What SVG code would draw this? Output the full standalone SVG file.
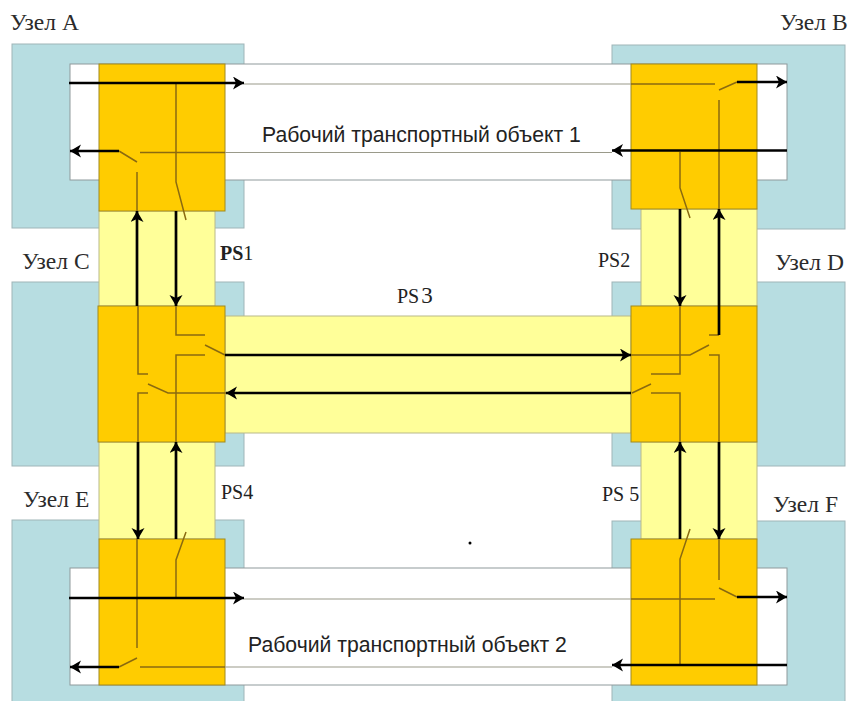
<svg xmlns="http://www.w3.org/2000/svg" width="855" height="701" viewBox="0 0 855 701">
<style>
.bg{fill:#b7dde1;stroke:#9fb5b8;stroke-width:1}
.band{fill:#fff;stroke:#8f9a9c;stroke-width:1}
.ps{fill:#ffff99;stroke:#b9b98a;stroke-width:1}
.or{fill:#ffcc00;stroke:#a08a20;stroke-width:1}
.t{font-family:"Liberation Serif",serif;font-size:23.500px;fill:#2b2b2b}
.s{font-family:"Liberation Sans",sans-serif;font-size:21.200px;fill:#222}
.p{font-family:"Liberation Serif",serif;font-size:20px;fill:#222}
.thin{fill:none;stroke:#8a6a10;stroke-width:1.500}
.grey{fill:none;stroke:#9a9a8a;stroke-width:1.200}
.arr{fill:none;stroke:#000;stroke-width:2.700;marker-end:url(#ah)}
.thick{fill:none;stroke:#000;stroke-width:2.700}
</style>
<defs>
<marker id="ah" markerUnits="userSpaceOnUse" markerWidth="12" markerHeight="14" refX="11" refY="6.500" orient="auto">
<path d="M0,0 L11,6.500 L0,13 L3,6.500 Z" fill="#000"/>
</marker>
</defs>
<g id="node-a-bg"><rect class="bg" x="12" y="44" width="232" height="184"/></g>
<g id="node-b-bg"><rect class="bg" x="612" y="45" width="233" height="184"/></g>
<g id="node-c-bg"><rect class="bg" x="12" y="282" width="232" height="184"/></g>
<g id="node-d-bg"><rect class="bg" x="612" y="282" width="233" height="184"/></g>
<g id="node-e-bg"><rect class="bg" x="12" y="520" width="232" height="190"/></g>
<g id="node-f-bg"><rect class="bg" x="612" y="521" width="233" height="190"/></g>
<g id="wto1"><rect class="band" x="70" y="64" width="717" height="116"/></g>
<g id="wto2"><rect class="band" x="70" y="568" width="717" height="117"/></g>
<g id="ps1"><rect class="ps" x="99" y="211" width="116" height="95"/></g>
<g id="ps2"><rect class="ps" x="641" y="209" width="116" height="97"/></g>
<g id="ps3"><rect class="ps" x="225" y="316" width="406" height="117"/></g>
<g id="ps4"><rect class="ps" x="99" y="442" width="116" height="97"/></g>
<g id="ps5"><rect class="ps" x="641" y="442" width="116" height="97"/></g>
<g id="node-a"><rect class="or" x="99" y="64" width="126" height="147"/></g>
<g id="node-b"><rect class="or" x="631" y="64" width="126" height="145"/></g>
<g id="node-c"><rect class="or" x="98" y="306" width="127" height="136"/></g>
<g id="node-d"><rect class="or" x="631" y="306" width="126" height="136"/></g>
<g id="node-e"><rect class="or" x="99" y="539" width="126" height="146"/></g>
<g id="node-f"><rect class="or" x="631" y="539" width="126" height="146"/></g>
<g id="connectors">
<path class="grey" d="M244,84H631M225,152.500H612M225,667H612M244,599H631"/>
<path class="thin" d="M631,84H715M140,152.500H225M140,667H225M631,599H715"/>
<path class="thin" d="M176,84V182L186,220M137,211V172M119,151L137,162M680,152V188L690,218M719,100V209M719,90L737,82"/>
<path class="thin" d="M631,355H690L709,345M709,335H719M680,306V374H651M632,393L651,384M651,393H680V442M709,355H719V442M176,306V335H205M205,355H176V442M205,345L225,355M138,306V374H148M148,393H138V442M148,384L168,393H226"/>
<path class="thin" d="M137,539V648M137,658L119,667M176,598V560L186,532M680,665V559L690,529M719,539V580M719,588L737,597"/>
<path class="arr" d="M69,83H244"/>
<path class="arr" d="M119,151H70"/>
<path class="arr" d="M737,82H787"/>
<path class="arr" d="M787,150.500H612"/>
<path class="arr" d="M137,306V211"/>
<path class="arr" d="M176,211V306"/>
<path class="arr" d="M680,209V306"/>
<path class="arr" d="M719,335V209"/>
<path class="arr" d="M225,355H631"/>
<path class="arr" d="M631,393H226"/>
<path class="arr" d="M138,442V539"/>
<path class="arr" d="M176,539V442"/>
<path class="arr" d="M680,539V442"/>
<path class="arr" d="M719,442V539"/>
<path class="arr" d="M69,598H244"/>
<path class="arr" d="M119,667H70"/>
<path class="arr" d="M737,597H787"/>
<path class="arr" d="M787,665H612"/>
</g>
<g id="labels">
<text class="t" x="10" y="30">Узел A</text>
<text class="t" x="780" y="30">Узел B</text>
<text class="t" x="22" y="269">Узел C</text>
<text class="t" x="775" y="270">Узел D</text>
<text class="t" x="23" y="507">Узел E</text>
<text class="t" x="773" y="512">Узел F</text>
<text class="s" x="262" y="142">Рабочий транспортный объект 1</text>
<text class="s" x="248" y="652" font-size="21.400">Рабочий транспортный объект 2</text>
<text class="p" x="220" y="260" font-weight="bold">PS<tspan font-weight="normal">1</tspan></text>
<text class="p" x="598" y="267">PS2</text>
<text class="p" x="397" y="303">PS<tspan font-size="23" dx="2">3</tspan></text>
<text class="p" x="221" y="499" font-size="19">PS4</text>
<text class="p" x="602" y="501">PS 5</text>
</g>
<circle cx="470" cy="543" r="1.500" fill="#000"/>
</svg>
